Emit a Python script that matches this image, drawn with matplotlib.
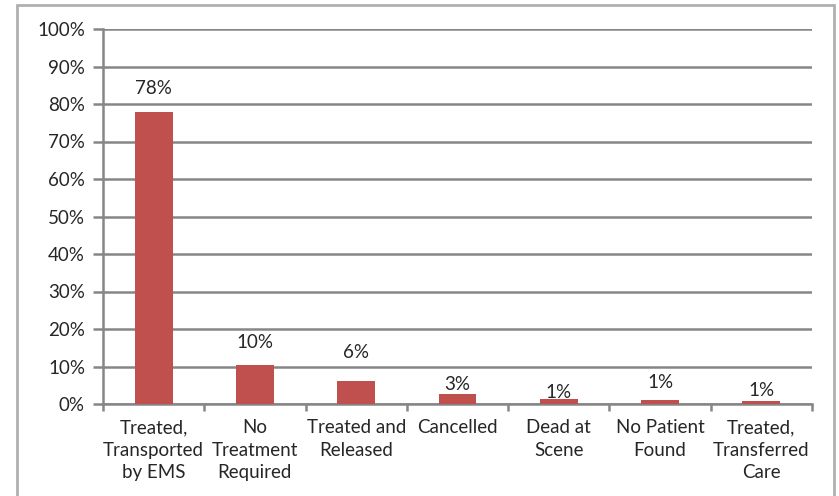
import matplotlib.pyplot as plt
from matplotlib.patches import Rectangle

categories = ["Treated,\nTransported\nby EMS", "No\nTreatment\nRequired", "Treated and\nReleased",
              "Cancelled", "Dead at\nScene", "No Patient\nFound", "Treated,\nTransferred\nCare"]
values = [78, 10.3, 6.1, 2.6, 1.3, 1.1, 0.9]
labels = ["78%", "10%", "6%", "3%", "1%", "1%", "1%"]
# label centres (in % units) as placed in the original chart
label_y = [84, 16.3, 13.6, 5.3, 3.2, 5.6, 3.7]

W, H = 839, 496
fig = plt.figure(figsize=(W / 100, H / 100), dpi=100)
plt.rcParams['font.family'] = ['Lato', 'DejaVu Sans']
txt = '#262626'

# outer chart border
fig.patches.append(Rectangle((17 / W, -0.05), (834 - 17) / W, 1.05 - 5 / H,
                             transform=fig.transFigure, fill=False,
                             edgecolor='#b0b0b0', linewidth=2))

ax = fig.add_axes([103 / W, 1 - 404 / H, (812 - 103) / W, (404 - 29) / H])
x = range(len(categories))
ax.bar(x, values, width=0.375, color='#C0504D', zorder=3)
for i, lab in enumerate(labels):
    ax.text(i, label_y[i], lab, ha='center', va='center', fontsize=13.5, color=txt)

gray = '#868686'
ax.set_ylim(0, 100)
ax.set_xlim(-0.5, len(categories) - 0.5)
ax.set_yticks(range(0, 101, 10))
ax.set_yticklabels([f"{t}%" for t in range(0, 101, 10)], fontsize=13.5, color=txt)
ax.yaxis.grid(True, color=gray, linewidth=1.8, zorder=0)
ax.set_xticks([i - 0.5 for i in range(len(categories) + 1)])
ax.set_xticklabels([])
ax.set_xticks(list(x), minor=True)
ax.set_xticklabels(categories, minor=True, fontsize=13.5, color=txt, linespacing=1.4)
ax.tick_params(axis='x', which='minor', length=0, pad=11)
ax.tick_params(axis='x', which='major', length=5, color=gray, width=1.8)
ax.tick_params(axis='y', length=7, color=gray, width=1.8, pad=6)
for s in ['top', 'right']:
    ax.spines[s].set_visible(False)
for s in ['left', 'bottom']:
    ax.spines[s].set_color(gray)
    ax.spines[s].set_linewidth(1.8)

fig.savefig('out.png', dpi=100)
